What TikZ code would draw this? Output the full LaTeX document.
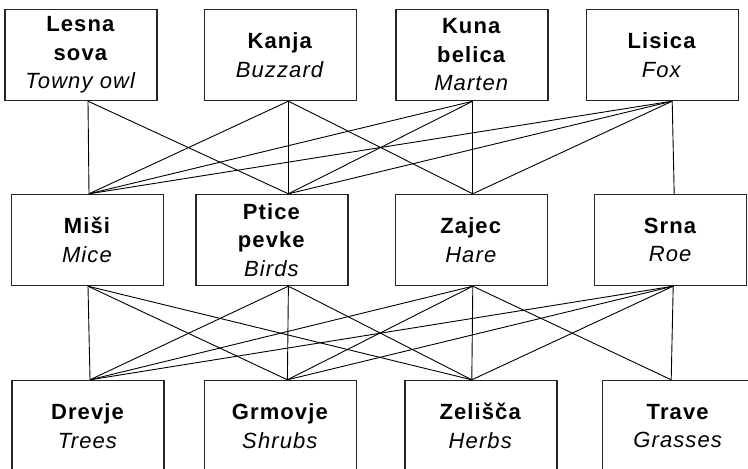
\documentclass[tikz,border=0pt]{standalone}
\usepackage{fontspec}
\setmainfont[LetterSpace=5]{Liberation Sans}
\usetikzlibrary{positioning}

\tikzset{
    animal/.style={draw=black!85, line width=1.4pt, minimum width=152pt, minimum height=91pt,
        inner sep=0pt, align=center, font=\fontsize{22}{28.5}\selectfont},
    link/.style={line width=0.9pt},
}
\newcommand{\spname}[2]{\textbf{#1}\\\textit{#2}}

\begin{document}
\begin{tikzpicture}
            \useasboundingbox (0,0) rectangle (748pt,469pt);
            % predators
            \node[animal] (lesna) at (81pt,414pt) {\textbf{Lesna}\\\spname{sova}{Towny owl}};
            \node[animal, right=46pt of lesna] (kanja) {\spname{Kanja}{Buzzard}};
            \node[animal, right=38pt of kanja] (kuna) {\textbf{Kuna}\\\spname{belica}{Marten}};
            \node[animal, right=37pt of kuna] (lisica) {\spname{Lisica}{Fox}};
            % herbivores
            \node[animal] (misi) at (87.5pt,229pt) {\spname{Miši}{Mice}};
            \node[animal, right=31pt of misi] (ptice) {\textbf{Ptice}\\\spname{pevke}{Birds}};
            \node[animal, right=46pt of ptice] (zajec) {\spname{Zajec}{Hare}};
            \node[animal, right=46pt of zajec] (srna) {\spname{Srna}{Roe}};
            % plants
            \node[animal] (drevje) at (88pt,43pt) {\spname{Drevje}{Trees}};
            \node[animal, right=39pt of drevje] (grmovje) {\spname{Grmovje}{Shrubs}};
            \node[animal, right=47pt of grmovje] (zelisca) {\spname{Zelišča}{Herbs}};
            \node[animal, right=44pt of zelisca] (trave) {\spname{Trave}{Grasses}};

            \foreach \n/\dx in {lesna/7, kanja/8, kuna/1, lisica/10, misi/0.5, ptice/16.5, zajec/1.5, srna/2.5}
                \coordinate (\n-s) at ([xshift=\dx pt]\n.south);
            \foreach \n/\dx in {misi/1.5, ptice/16.5, zajec/1.5, srna/3.5, drevje/2, grmovje/7, zelisca/-9, trave/-7}
                \coordinate (\n-n) at ([xshift=\dx pt]\n.north);

            \foreach \a/\b in {lesna/misi, lesna/ptice,
                               kanja/misi, kanja/ptice, kanja/zajec,
                               kuna/misi, kuna/ptice, kuna/zajec,
                               lisica/misi, lisica/ptice, lisica/zajec, lisica/srna,
                               misi/drevje, misi/grmovje, misi/zelisca,
                               ptice/drevje, ptice/grmovje, ptice/zelisca,
                               zajec/drevje, zajec/grmovje, zajec/zelisca, zajec/trave,
                               srna/drevje, srna/grmovje, srna/zelisca, srna/trave}
                \draw[link] (\a-s) -- (\b-n);
\end{tikzpicture}
\end{document}
